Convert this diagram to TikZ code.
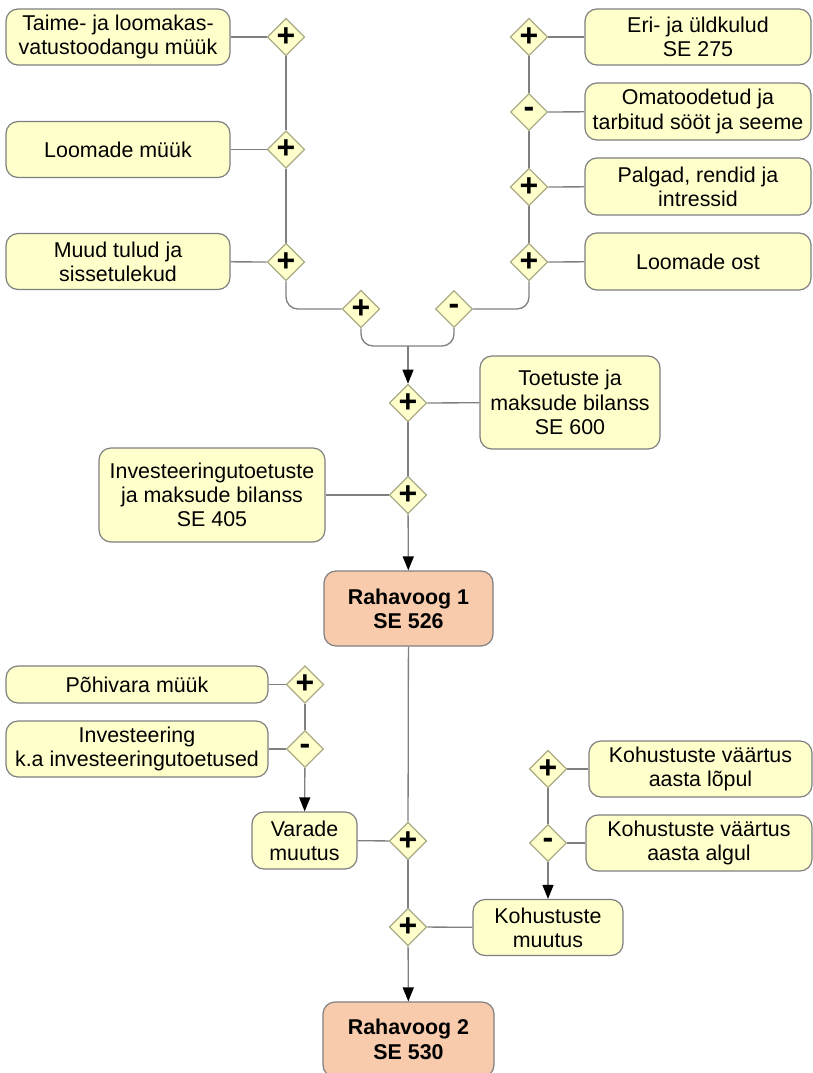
\documentclass[tikz,border=0pt]{standalone}
\usepackage{fontspec}
\setmainfont{Liberation Sans}
\usetikzlibrary{shapes.geometric,arrows.meta}
\definecolor{boxfill}{HTML}{FFFFCC}
\definecolor{sumfill}{HTML}{F8CBAD}
\definecolor{edgegray}{HTML}{7F7F7F}
\definecolor{gatedraw}{HTML}{ABAB85}
\tikzset{
	item/.style={draw=edgegray, fill=boxfill, line width=1.2pt, rounded corners=12pt, align=center, inner sep=2pt, font=\fontsize{21.4}{24.3}\selectfont},
	total/.style={item, fill=sumfill, font=\fontsize{21.4}{24.3}\selectfont\bfseries},
	gate/.style={diamond, draw=gatedraw, fill=boxfill, line width=1.2pt, inner sep=0pt, minimum width=37pt, minimum height=37pt, font=\fontsize{32}{32}\selectfont\bfseries},
	link/.style={draw=edgegray, line width=1.3pt},
	flow/.style={link, -{Triangle[width=11pt,length=14pt,color=black]}}
}

\begin{document}
\begin{tikzpicture}[x=1pt, y=-1pt]
			%%%%% START %%%%%
			\useasboundingbox (0, 0) rectangle (812, 1073);
			
			% tulud
			\node[item, minimum width=224pt, minimum height=56pt] (taime) at (118, 37) {Taime- ja loomakas-\\vatustoodangu müük};
			\node[item, minimum width=224pt, minimum height=56pt] (loomamyyk) at (118, 149.5) {Loomade müük};
			\node[item, minimum width=224pt, minimum height=56pt] (muud) at (118, 261.5) {Muud tulud ja\\sissetulekud};
			\node[gate] (gtaime) at (286, 37) {+};
			\node[gate] (gloomamyyk) at (286, 149.5) {+};
			\node[gate] (gmuud) at (286, 262) {+};
			\node[gate] (gtulud) at (361, 309) {+};
			
			% kulud
			\node[item, minimum width=226pt, minimum height=56pt] (eri) at (698, 37) {Eri- ja üldkulud\\SE 275};
			\node[item, minimum width=226pt, minimum height=57pt] (oma) at (698, 111.5) {Omatoodetud ja\\tarbitud sööt ja seeme};
			\node[item, minimum width=226pt, minimum height=57pt] (palgad) at (698, 186.5) {Palgad, rendid ja\\intressid};
			\node[item, minimum width=226pt, minimum height=57pt] (loomaost) at (698, 261.5) {Loomade ost};
			\node[gate] (geri) at (529, 37) {+};
			\node[gate] (goma) at (529, 112) {-};
			\node[gate] (gpalgad) at (529, 187) {+};
			\node[gate] (gloomaost) at (529, 262) {+};
			\node[gate] (gkulud) at (454, 309) {-};
			
			\coordinate (kokku) at (408, 346);
			
			% toetused
			\node[item, minimum width=180pt, minimum height=93pt] (toetus) at (570, 402.5) {Toetuste ja\\maksude bilanss\\SE 600};
			\node[item, minimum width=226pt, minimum height=94pt] (invtoetus) at (212, 495) {Investeeringutoetuste\\ja maksude bilanss\\SE 405};
			\node[gate] (gtoetus) at (408, 403) {+};
			\node[gate] (ginvtoetus) at (408, 495) {+};
			
			\node[total, minimum width=169pt, minimum height=75pt] (raha1) at (408.5, 608.5) {Rahavoog 1\\SE 526};
			
			% varad
			\node[item, minimum width=262pt, minimum height=37pt] (pohivara) at (137, 684.5) {Põhivara müük};
			\node[item, minimum width=262pt, minimum height=56pt] (invest) at (137, 749) {Investeering\\k.a investeeringutoetused};
			\node[gate] (gpohivara) at (305, 684.5) {+};
			\node[gate] (ginvest) at (305, 749) {-};
			\node[item, minimum width=105pt, minimum height=57pt] (varad) at (304.5, 840.5) {Varade\\muutus};
			
			% kohustused
			\node[item, minimum width=223pt, minimum height=56pt] (kohlopp) at (700.5, 769) {Kohustuste väärtus\\aasta lõpul};
			\node[item, minimum width=226pt, minimum height=56pt] (kohalgus) at (699, 843) {Kohustuste väärtus\\aasta algul};
			\node[gate] (gkohlopp) at (548, 769) {+};
			\node[gate] (gkohalgus) at (548, 843) {-};
			\node[item, minimum width=150pt, minimum height=56pt] (kohustus) at (548, 927.5) {Kohustuste\\muutus};
			
			\node[gate] (gvarad) at (408, 841) {+};
			\node[gate] (gkohustus) at (408, 927) {+};
			
			\node[total, minimum width=171pt, minimum height=75pt] (raha2) at (408.5, 1039.5) {Rahavoog 2\\SE 530};
			
			% yhendused
			\draw[link] (taime) -- (gtaime);
			\draw[link] (loomamyyk) -- (gloomamyyk);
			\draw[link] (muud) -- (gmuud);
			\draw[link] (gtaime) -- (gloomamyyk);
			\draw[link] (gloomamyyk) -- (gmuud);
			\draw[link, rounded corners=12pt] (gmuud.south) |- (gtulud.west);
			
			\draw[link] (eri) -- (geri);
			\draw[link] (oma) -- (goma);
			\draw[link] (palgad) -- (gpalgad);
			\draw[link] (loomaost) -- (gloomaost);
			\draw[link] (geri) -- (goma);
			\draw[link] (goma) -- (gpalgad);
			\draw[link] (gpalgad) -- (gloomaost);
			\draw[link, rounded corners=12pt] (gloomaost.south) |- (gkulud.east);
			
			\draw[link, rounded corners=12pt] (gtulud.south) |- (kokku);
			\draw[link, rounded corners=12pt] (gkulud.south) |- (kokku);
			\draw[flow] (kokku) -- (gtoetus);
			
			\draw[link] (toetus) -- (gtoetus);
			\draw[link] (invtoetus) -- (ginvtoetus);
			\draw[link] (gtoetus) -- (ginvtoetus);
			\draw[flow] (ginvtoetus) -- (raha1);
			
			\draw[link] (pohivara) -- (gpohivara);
			\draw[link] (invest) -- (ginvest);
			\draw[link] (gpohivara) -- (ginvest);
			\draw[flow] (ginvest) -- (varad);
			
			\draw[link] (kohlopp) -- (gkohlopp);
			\draw[link] (kohalgus) -- (gkohalgus);
			\draw[link] (gkohlopp) -- (gkohalgus);
			\draw[flow] (gkohalgus) -- (kohustus);
			
			\draw[link] (raha1) -- (gvarad);
			\draw[link] (varad) -- (gvarad);
			\draw[link] (gvarad) -- (gkohustus);
			\draw[link] (kohustus) -- (gkohustus);
			\draw[flow] (gkohustus) -- (raha2);
			%%%%% END %%%%%
\end{tikzpicture}
\end{document}
